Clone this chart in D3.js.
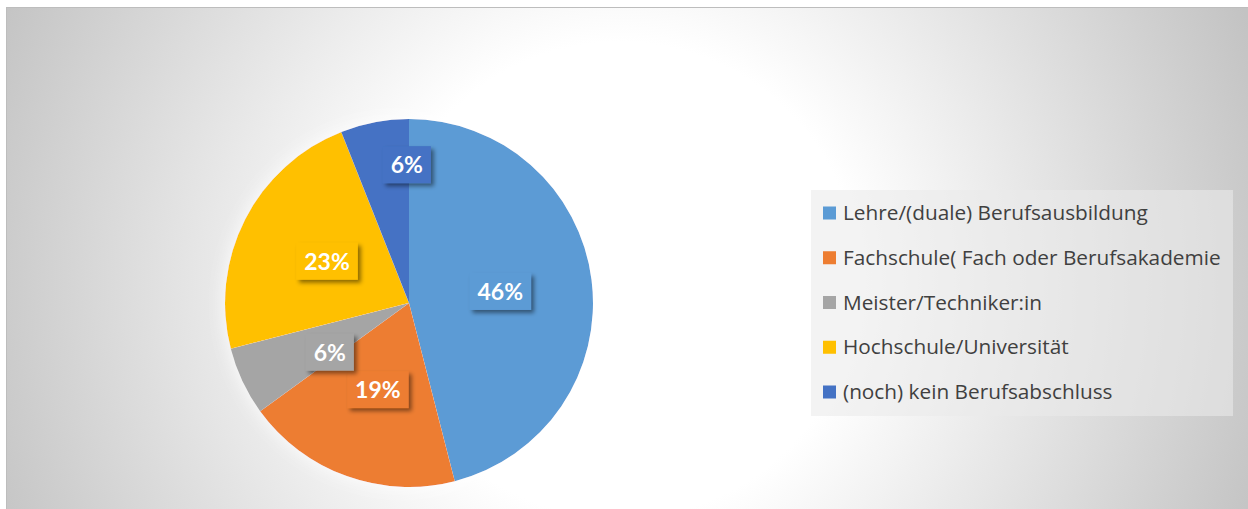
<!DOCTYPE html>
<html>
<head>
<meta charset="utf-8">
<script src="https://cdn.jsdelivr.net/npm/d3@7"></script>
<style>
  html, body { margin: 0; padding: 0; background: #ffffff; }
  svg { display: block; }
</style>
</head>
<body>
<svg id="chart" width="1248" height="509"></svg>
<script>
// Highest completed qualification, share of respondents (%)
const categories = [
  "Lehre/(duale) Berufsausbildung",
  "Fachschule( Fach oder Berufsakademie",
  "Meister/Techniker:in",
  "Hochschule/Universität",
  "(noch) kein Berufsabschluss"
];
const shares = [46, 19, 6, 23, 6];
const sliceColors = ["#5B9BD5", "#ED7D31", "#A5A5A5", "#FFC000", "#4472C4"];

const W = 1248, H = 509;
const svg = d3.select("#chart");
const defs = svg.append("defs");

// Chart-area background: soft radial light spot fading to grey
const bg = defs.append("radialGradient")
  .attr("id", "bgGrad")
  .attr("gradientUnits", "userSpaceOnUse")
  .attr("cx", 620).attr("cy", 280).attr("r", 680);
bg.append("stop").attr("offset", 0).attr("stop-color", "#ffffff");
bg.append("stop").attr("offset", 0.35).attr("stop-color", "#ffffff");
bg.append("stop").attr("offset", 1).attr("stop-color", "#c3c3c3");

// Light halo around the pie
const glow = defs.append("filter").attr("id", "pieGlow")
  .attr("x", "-20%").attr("y", "-20%").attr("width", "140%").attr("height", "140%");
glow.append("feGaussianBlur").attr("in", "SourceAlpha").attr("stdDeviation", 9).attr("result", "blur");
glow.append("feFlood").attr("flood-color", "#ffffff").attr("flood-opacity", 0.9);
glow.append("feComposite").attr("in2", "blur").attr("operator", "in").attr("result", "halo");
const gm = glow.append("feMerge");
gm.append("feMergeNode").attr("in", "halo");
gm.append("feMergeNode").attr("in", "SourceGraphic");

// Drop shadow for the data-label boxes
const shadow = defs.append("filter").attr("id", "labelShadow")
  .attr("x", "-30%").attr("y", "-30%").attr("width", "170%").attr("height", "180%");
shadow.append("feDropShadow")
  .attr("dx", 3).attr("dy", 3).attr("stdDeviation", 2.2)
  .attr("flood-color", "#000000").attr("flood-opacity", 0.45);

svg.append("rect")
  .attr("x", 6.5).attr("y", 7.5)
  .attr("width", W - 6).attr("height", H)
  .attr("fill", "url(#bgGrad)")
  .attr("stroke", "#bdbdbd").attr("stroke-width", 1);

// Pie
const cx = 409, cy = 303, radius = 184;
const pie = d3.pie().sort(null).value(d => d).startAngle(0).endAngle(2 * Math.PI);
const arcs = pie(shares);
const arc = d3.arc().innerRadius(0).outerRadius(radius);

const pieG = svg.append("g").attr("transform", `translate(${cx},${cy})`);
pieG.append("g").attr("filter", "url(#pieGlow)")
  .selectAll("path")
  .data(arcs)
  .join("path")
  .attr("d", arc)
  .attr("fill", (d, i) => sliceColors[i]);

// Data labels: centred on each slice, with best-fit adjustments for the small slices
const labelRadius = [0.5, 0.5, 0.5, 0.5, 0.76];
const labelShift = [[0, 0], [0, 0], [4, 10], [0, 0], [24, -1]];
const labelG = pieG.append("g");
arcs.forEach((a, i) => {
  const r = radius * labelRadius[i];
  const c = d3.arc().innerRadius(r).outerRadius(r).centroid(a);
  const x = c[0] + labelShift[i][0], y = c[1] + labelShift[i][1];
  const g = labelG.append("g").attr("transform", `translate(${x},${y})`);
  const box = g.append("rect").attr("fill", sliceColors[i]).attr("filter", "url(#labelShadow)");
  const t = g.append("text")
    .attr("text-anchor", "middle")
    .attr("y", 8.5)
    .attr("font-family", "Lato, 'Open Sans', sans-serif")
    .attr("font-weight", 700)
    .attr("font-size", 23)
    .attr("fill", "#ffffff")
    .text(d3.format(".0f")(shares[i]) + "%");
  const tw = t.node().getComputedTextLength();
  const bw = tw + 16, bh = 37;
  box.attr("x", -bw / 2).attr("y", -bh / 2).attr("width", bw).attr("height", bh);
});

// Legend
const legendX = 811, legendY = 190, legendW = 422, legendH = 226;
svg.append("rect")
  .attr("x", legendX).attr("y", legendY)
  .attr("width", legendW).attr("height", legendH)
  .attr("fill", "#eaeaea").attr("fill-opacity", 0.58);

const rowStep = 44.75;
const legendItems = svg.append("g")
  .selectAll("g")
  .data(categories)
  .join("g")
  .attr("transform", (d, i) => `translate(823,${213 + i * rowStep})`);
legendItems.append("rect")
  .attr("x", 0).attr("y", -6.5)
  .attr("width", 13).attr("height", 13)
  .attr("fill", (d, i) => sliceColors[i]);
const legendText = legendItems.append("text")
  .attr("x", 20).attr("y", 7)
  .attr("font-family", "'Open Sans', sans-serif")
  .attr("font-size", 20)
  .attr("fill", "#404040")
  .text(d => d);

// Size the legend text so the longest entry fills the legend box width
const longest = d3.max(legendText.nodes(), n => n.getComputedTextLength());
legendText.attr("font-size", 20 * 378 / longest);
</script>
</body>
</html>
